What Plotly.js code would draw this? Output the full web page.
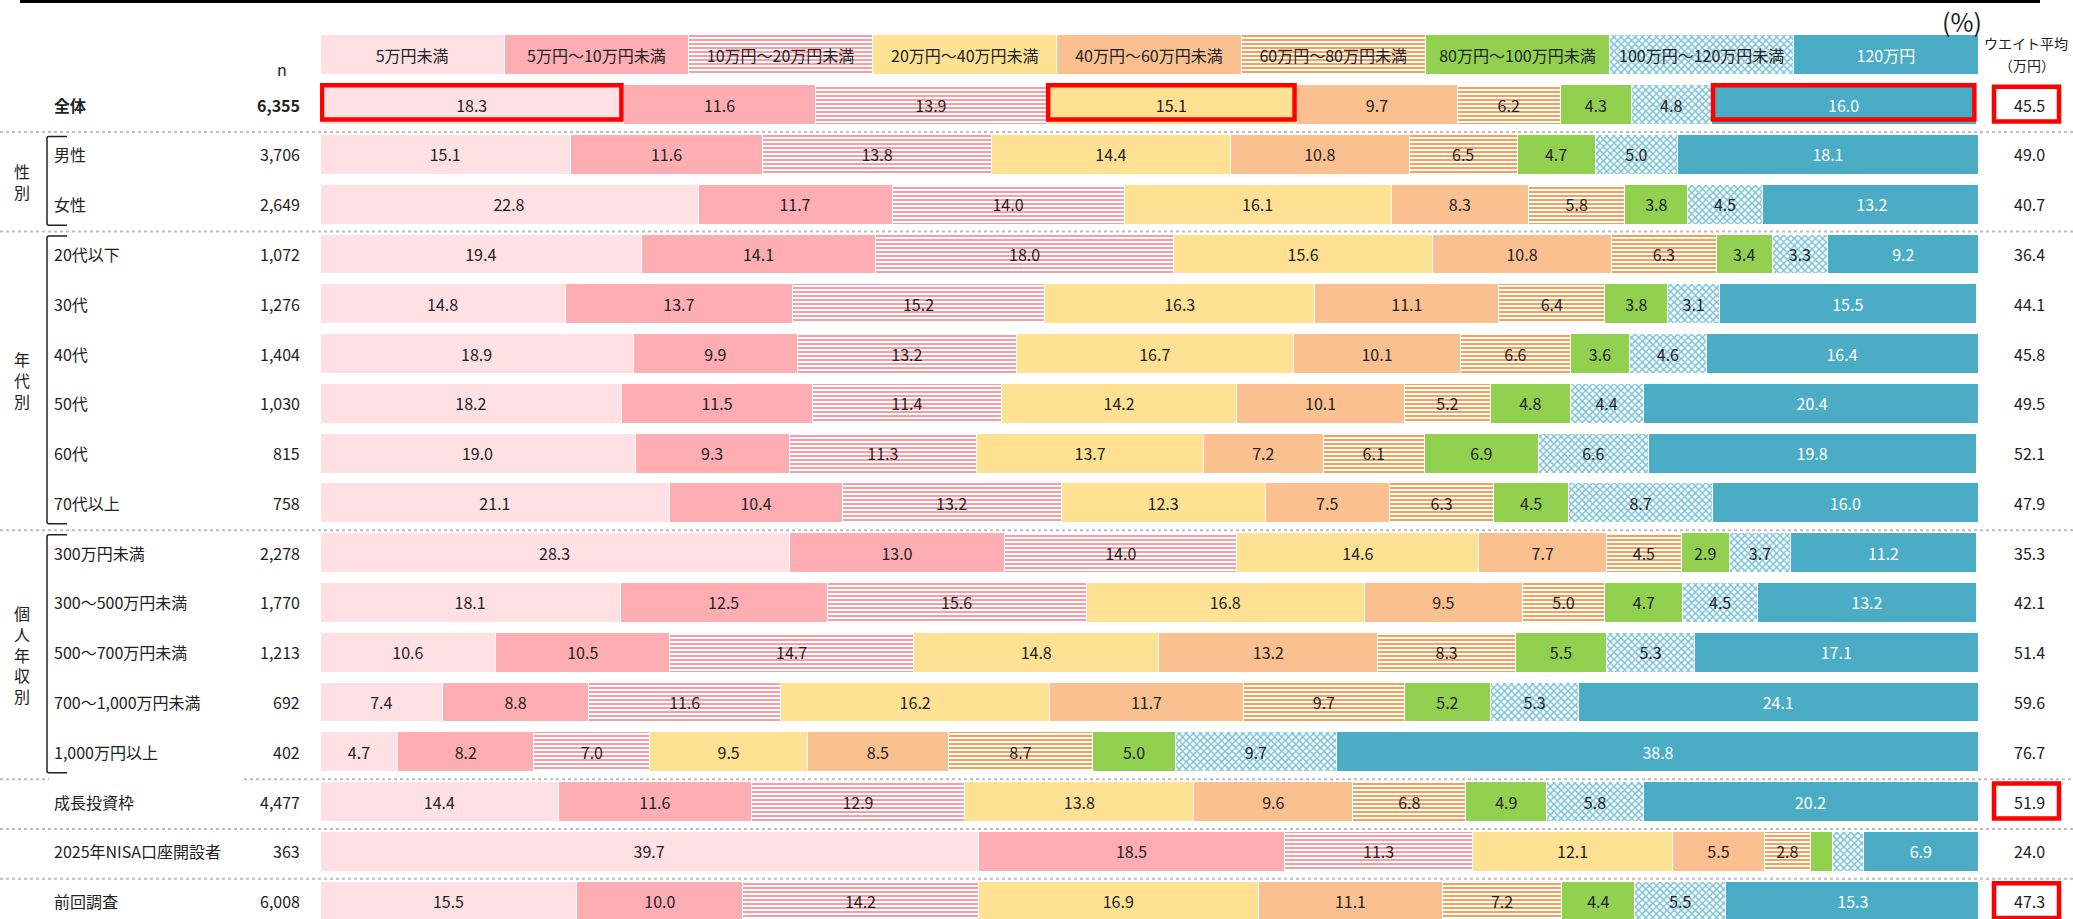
<!DOCTYPE html>
<html>
<head>
<meta charset="utf-8">
<script src="https://cdn.plot.ly/plotly-3.0.1.min.js"></script>
<style>html,body{margin:0;padding:0;background:#fff;}#chart{width:2073px;height:919px;}</style>
</head>
<body>
<div id="chart"></div>
<script>
// ---------- data ----------
const categories = ['5万円未満','5万円～10万円未満','10万円～20万円未満','20万円～40万円未満','40万円～60万円未満','60万円～80万円未満','80万円～100万円未満','100万円～120万円未満','120万円'];
const rowLabels = ['全体','男性','女性','20代以下','30代','40代','50代','60代','70代以上','300万円未満','300～500万円未満','500～700万円未満','700～1,000万円未満','1,000万円以上','成長投資枠','2025年NISA口座開設者','前回調査'];
const sampleSizes = ['6,355','3,706','2,649','1,072','1,276','1,404','1,030','815','758','2,278','1,770','1,213','692','402','4,477','363','6,008'];
const weightedAvg = [45.5,49.0,40.7,36.4,44.1,45.8,49.5,52.1,47.9,35.3,42.1,51.4,59.6,76.7,51.9,24.0,47.3];

const under5      = [18.3,15.1,22.8,19.4,14.8,18.9,18.2,19.0,21.1,28.3,18.1,10.6,7.4,4.7,14.4,39.7,15.5];
const from5to10   = [11.6,11.6,11.7,14.1,13.7,9.9,11.5,9.3,10.4,13.0,12.5,10.5,8.8,8.2,11.6,18.5,10.0];
const from10to20  = [13.9,13.8,14.0,18.0,15.2,13.2,11.4,11.3,13.2,14.0,15.6,14.7,11.6,7.0,12.9,11.3,14.2];
const from20to40  = [15.1,14.4,16.1,15.6,16.3,16.7,14.2,13.7,12.3,14.6,16.8,14.8,16.2,9.5,13.8,12.1,16.9];
const from40to60  = [9.7,10.8,8.3,10.8,11.1,10.1,10.1,7.2,7.5,7.7,9.5,13.2,11.7,8.5,9.6,5.5,11.1];
const from60to80  = [6.2,6.5,5.8,6.3,6.4,6.6,5.2,6.1,6.3,4.5,5.0,8.3,9.7,8.7,6.8,2.8,7.2];
const from80to100 = [4.3,4.7,3.8,3.4,3.8,3.6,4.8,6.9,4.5,2.9,4.7,5.5,5.2,5.0,4.9,1.3,4.4];
const from100to120= [4.8,5.0,4.5,3.3,3.1,4.6,4.4,6.6,8.7,3.7,4.5,5.3,5.3,9.7,5.8,1.9,5.5];
const over120     = [16.0,18.1,13.2,9.2,15.5,16.4,20.4,19.8,16.0,11.2,13.2,17.1,24.1,38.8,20.2,6.9,15.3];

const groups = [
  {label:'性別', first:'男性', last:'女性'},
  {label:'年代別', first:'20代以下', last:'70代以上'},
  {label:'個人年収別', first:'300万円未満', last:'1,000万円以上'}
];
const highlightRow = '全体';
const highlightCats = [0, 3, 8];
const highlightAvgRows = ['全体','成長投資枠','前回調査'];
const separatorsAfter = ['全体','女性','70代以上','1,000万円以上','成長投資枠','2025年NISA口座開設者'];

// ---------- styling ----------
const FONT = '"Noto Sans CJK JP", "Noto Sans", sans-serif';
const TXT = '#222222';
const colors = ['#FFE1E4','#FEADB2','#FFFFFF','#FFE194','#FAC090','#FFFFFF','#92D050','#FFFFFF','#4BACC6'];
const patterns = [
  {shape:''},{shape:''},
  {shape:'-', fgcolor:'#FA9CA3', bgcolor:'#FFFFFF', size:4, solidity:0.5, fillmode:'replace'},
  {shape:''},{shape:''},
  {shape:'-', fgcolor:'#F79E58', bgcolor:'#FFFFFF', size:4, solidity:0.5, fillmode:'replace'},
  {shape:''},
  {shape:'x', fgcolor:'#7DC4DB', bgcolor:'#FFFFFF', size:5, solidity:0.5, fillmode:'replace'},
  {shape:''}
];

const W = 2073, H = 919, L = 320, R = 95, T = 30, B = 0;
const PW = W - L - R, PH = H - T - B;
const px = p => (p - L) / PW;
const py = p => (H - B - p) / PH;

const series = [under5, from5to10, from10to20, from20to40, from40to60, from60to80, from80to100, from100to120, over120];
const HEADER = ' ';
const yCats = [HEADER].concat(rowLabels);
const headerShare = 100 / categories.length;
const Y_RANGE = [17.36, -0.5];

const traces = categories.map((name, i) => ({
  type:'bar', orientation:'h', name:name,
  y: yCats,
  x: [headerShare].concat(series[i]),
  text: [name].concat(series[i].map(v => v < 2 ? '' : v.toFixed(1))),
  texttemplate:'%{text}',
  textposition:'inside', insidetextanchor:'middle', textangle:0,
  insidetextfont:{family:FONT, size:16, color: i === 8 ? '#FFFFFF' : TXT},
  marker:{color:colors[i], line:{color:'#FFFFFF', width:1}, pattern:patterns[i]},
  hoverinfo:'skip'
}));

const annotations = [];
const shapes = [];
const idx = name => yCats.indexOf(name);
const ann = (o) => Object.assign({showarrow:false, xanchor:'center', yanchor:'middle', font:{family:FONT, size:16, color:TXT}}, o);

rowLabels.forEach((lab, r) => {
  const bold = lab === '全体';
  annotations.push(ann({xref:'paper', yref:'y', x:px(52), y:lab, xanchor:'left',
    text: bold ? '<b>' + lab + '</b>' : lab}));
  annotations.push(ann({xref:'paper', yref:'y', x:px(302), y:lab, xanchor:'right',
    text: bold ? '<b>' + sampleSizes[r] + '</b>' : sampleSizes[r]}));
  annotations.push(ann({xref:'paper', yref:'y', x:px(2030), y:lab,
    text: weightedAvg[r].toFixed(1)}));
});

annotations.push(ann({xref:'paper', yref:'paper', x:px(282), y:py(69), text:'n'}));
annotations.push(ann({xref:'paper', yref:'paper', x:px(1962), y:py(21), text:'(%)', font:{family:FONT, size:25, color:TXT}}));
annotations.push(ann({xref:'paper', yref:'paper', x:px(2026), y:py(43), text:'ウエイト平均', font:{family:FONT, size:14, color:TXT}}));
annotations.push(ann({xref:'paper', yref:'paper', x:px(2027), y:py(65), text:'（万円）', font:{family:FONT, size:14, color:TXT}}));

// pixel center of a category row
const rowPix = i => T + (i - Y_RANGE[1]) * (PH / (Y_RANGE[0] - Y_RANGE[1]));

groups.forEach(g => {
  const a = idx(g.first), b = idx(g.last);
  const top = rowPix(a) - 18, bot = rowPix(b) + 21;
  const mid = (rowPix(a) + rowPix(b)) / 2 + 2;
  annotations.push(ann({xref:'paper', yref:'paper', x:px(22), y:py(mid),
    text: g.label.split('').join('<br>')}));
  shapes.push({type:'path', xref:'paper', yref:'paper',
    path:`M ${px(67)} ${py(top)} L ${px(49)} ${py(top)} Q ${px(47)} ${py(top)} ${px(47)} ${py(top+2)} L ${px(47)} ${py(bot-2)} Q ${px(47)} ${py(bot)} ${px(49)} ${py(bot)} L ${px(67)} ${py(bot)}`,
    line:{color:'#222', width:1.5}});
});

// separators
separatorsAfter.forEach(lab => {
  const yv = idx(lab) + 0.55;
  const seg = (a, b) => shapes.push({type:'line', layer:'below', xref:'paper', yref:'y', x0:px(a), x1:px(b), y0:yv, y1:yv, line:{color:'#BDBDBD', width:2, dash:'dot'}});
  if (lab === '1,000万円以上') { seg(0, 49); seg(244, 2073); } else { seg(0, 2073); }
});

// top rule
shapes.push({type:'line', xref:'paper', yref:'paper', x0:px(20), x1:px(2040), y0:py(1.5), y1:py(1.5), line:{color:'#000', width:3}});

// red highlight boxes on segments
const hr = rowLabels.indexOf(highlightRow);
highlightCats.forEach(c => {
  let start = 0;
  for (let k = 0; k < c; k++) start += series[k][hr];
  const end = Math.min(start + series[c][hr], 100);
  shapes.push({type:'rect', xref:'x', yref:'y', x0:start + 0.12, x1:end - 0.12, y0:idx(highlightRow) - 0.39, y1:idx(highlightRow) + 0.3,
    line:{color:'#FF0000', width:4.5}, fillcolor:'rgba(0,0,0,0)'});
});
highlightAvgRows.forEach(lab => {
  const i = idx(lab);
  shapes.push({type:'rect', xref:'paper', yref:'y', x0:px(1994), x1:px(2059), y0:i - 0.36, y1:i + 0.34,
    line:{color:'#FF0000', width:4.5}, fillcolor:'rgba(0,0,0,0)'});
});

const layout = {
  width:W, height:H,
  margin:{l:L, r:R, t:T, b:B, pad:0},
  barmode:'stack', bargap:0.2,
  showlegend:false,
  paper_bgcolor:'#FFFFFF', plot_bgcolor:'#FFFFFF',
  font:{family:FONT, size:16, color:TXT},
  xaxis:{range:[0,100], visible:false, fixedrange:true},
  yaxis:{type:'category', categoryorder:'array', categoryarray:yCats, range:Y_RANGE, autorange:false, visible:false, fixedrange:true},
  annotations:annotations,
  shapes:shapes
};

Plotly.newPlot('chart', traces, layout, {displayModeBar:false, staticPlot:true});
</script>
</body>
</html>
